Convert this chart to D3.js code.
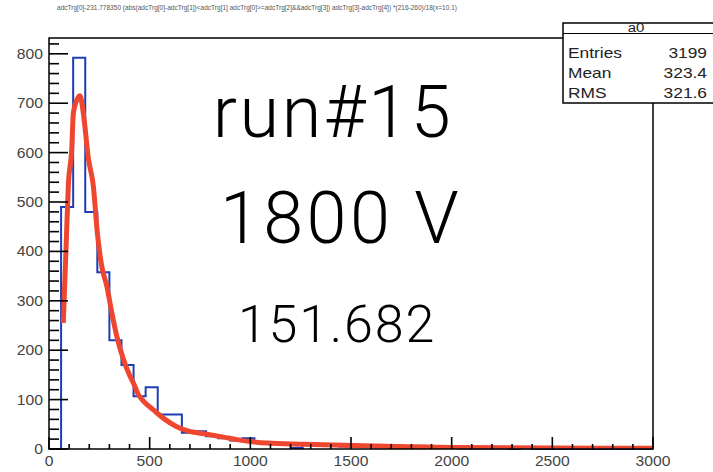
<!DOCTYPE html>
<html>
<head>
<meta charset="utf-8">
<script src="https://cdn.jsdelivr.net/npm/d3@7"></script>
<style>
  html, body { margin: 0; padding: 0; background: #fff; }
  svg { display: block; }
</style>
</head>
<body>
<script>
// ---- data ----
const binWidth = 60;
const binCounts = [0, 490, 792, 480, 358, 220, 170, 107, 125, 70,
                   70, 33, 36, 26, 22, 17, 22, 13, 11, 9,
                   2, 8, 7, 6, 5, 5, 4, 4, 3, 3,
                   2, 2, 2, 2, 1, 1, 1, 1, 0, 1,
                   0, 0, 0, 0, 0, 0, 0, 0, 0, 0];
const fitX = [71, 85, 96, 113, 121, 141, 154, 171, 196, 220, 240, 262, 287, 312, 337, 370, 403, 420, 444, 469, 519, 569, 635, 685, 785, 867, 934, 1083, 1265, 1513, 1746, 2000, 2500, 3000];
const fitY = [255, 411, 533, 607, 680, 709, 715, 678, 587, 533, 438, 370, 330, 276, 228, 181, 147, 133, 110, 97, 79, 62, 45, 37, 30, 24, 19, 12, 9.5, 7, 5, 3, 2, 1.5];
const xTicks = [0, 500, 1000, 1500, 2000, 2500, 3000];
const yTicks = [0, 100, 200, 300, 400, 500, 600, 700, 800];
const statsLabels = ["Entries", "Mean", "RMS"];
const statsValues = ["3199", "323.4", "321.6"];
const histName = "a0";
const titleText = "adcTrg[0]-231.778350 (abs(adcTrg[0]-adcTrg[1])<adcTrg[1]  adcTrg[0]>=adcTrg[2]&&adcTrg[3])  adcTrg[3]-adcTrg[4]) *(216-260)/18(x=10.1)";
const bigLines = ["run#15", "1800 V", "151.682"];

// ---- layout ----
const W = 713, H = 472;
const frame = { left: 49, right: 653, top: 38, bottom: 449 };
const sans = "Liberation Sans, Arial, sans-serif";

const svg = d3.select("body").append("svg").attr("width", W).attr("height", H);

const x = d3.scaleLinear().domain([0, 3000]).range([frame.left, frame.right]);
const y = d3.scaleLinear().domain([0, 832]).range([frame.bottom, frame.top]);

// stretched text helper
function sText(g, tx, ty, str, size, anchor, sx, fill) {
  return g.append("text")
    .attr("transform", `translate(${tx},${ty}) scale(${sx},1)`)
    .attr("dy", "0.35em")
    .attr("text-anchor", anchor)
    .attr("font-family", sans).attr("font-size", size)
    .attr("fill", fill).text(str);
}

// histogram step path
const pts = [[0, 0]];
binCounts.forEach((c, i) => {
  pts.push([i * binWidth, c]);
  pts.push([(i + 1) * binWidth, c]);
});
pts.push([binCounts.length * binWidth, 0]);

svg.append("clipPath").attr("id", "clip").append("rect")
  .attr("x", frame.left).attr("y", frame.top)
  .attr("width", frame.right - frame.left).attr("height", frame.bottom - frame.top);

svg.append("path")
  .attr("d", d3.line().x(d => x(d[0])).y(d => y(d[1]))(pts))
  .attr("fill", "none").attr("stroke", "#1f3db3").attr("stroke-width", 2);

// fit curve
const fitPts = fitX.map((v, i) => [v, fitY[i]]);
svg.append("path")
  .attr("clip-path", "url(#clip)")
  .attr("d", d3.line().x(d => x(d[0])).y(d => y(d[1])).curve(d3.curveMonotoneX)(fitPts))
  .attr("fill", "none").attr("stroke", "#ef4630").attr("stroke-width", 5)
  .attr("stroke-linejoin", "round");

// frame
svg.append("rect")
  .attr("x", frame.left).attr("y", frame.top)
  .attr("width", frame.right - frame.left).attr("height", frame.bottom - frame.top)
  .attr("fill", "none").attr("stroke", "#000").attr("stroke-width", 1.5);

// y axis ticks (inside)
svg.append("g").selectAll("line").data(d3.range(0, 821, 20)).enter().append("line")
  .attr("x1", frame.left).attr("x2", d => frame.left + (d % 100 === 0 ? 19 : 10))
  .attr("y1", d => y(d)).attr("y2", d => y(d))
  .attr("stroke", "#000").attr("stroke-width", 1.6);
const ylab = svg.append("g");
yTicks.forEach(d => sText(ylab, frame.left - 6, y(d), d, 14, "end", 1.12, "#444"));

// x axis ticks (inside)
svg.append("g").selectAll("line").data(d3.range(0, 3001, 100)).enter().append("line")
  .attr("x1", d => x(d)).attr("x2", d => x(d))
  .attr("y1", frame.bottom).attr("y2", d => frame.bottom - (d % 500 === 0 ? 12 : 5))
  .attr("stroke", "#000").attr("stroke-width", 1.6);
const xlab = svg.append("g");
xTicks.forEach(d => sText(xlab, x(d), frame.bottom + 12, d, 14, "middle", 1.12, "#444"));

// title
svg.append("text").attr("x", 257).attr("y", 10).attr("text-anchor", "middle")
  .attr("font-family", sans).attr("font-size", 7)
  .attr("textLength", 400).attr("lengthAdjust", "spacingAndGlyphs")
  .attr("fill", "#555").text(titleText);

// stats box
const sb = { x: 563, y: 23, w: 160, h: 80, titleH: 10.5 };
const sg = svg.append("g");
sg.append("rect").attr("x", sb.x).attr("y", sb.y).attr("width", sb.w).attr("height", sb.h)
  .attr("fill", "#fff").attr("stroke", "#000").attr("stroke-width", 1.5);
sg.append("line").attr("x1", sb.x).attr("x2", sb.x + sb.w)
  .attr("y1", sb.y + sb.titleH).attr("y2", sb.y + sb.titleH)
  .attr("stroke", "#000").attr("stroke-width", 1.2);
sText(sg, 636, 27.5, histName, 12, "middle", 1.25, "#222");
statsLabels.forEach((l, i) => {
  const cy = 53 + i * 20;
  sText(sg, 568, cy, l, 14, "start", 1.24, "#222");
  sText(sg, 707, cy, statsValues[i], 14, "end", 1.24, "#222");
});

// big annotations
const bigPos = [
  { cx: 333, base: 137, size: 72, ls: 2.6 },
  { cx: 341, base: 243, size: 72, ls: 3.4 },
  { cx: 337, base: 342, size: 52, ls: 1.8 }
];
bigLines.forEach((t, i) => {
  svg.append("text").attr("x", bigPos[i].cx).attr("y", bigPos[i].base)
    .attr("text-anchor", "middle")
    .attr("font-family", "Roboto, 'Liberation Sans', sans-serif")
    .attr("font-weight", 300)
    .attr("letter-spacing", bigPos[i].ls)
    .attr("font-size", bigPos[i].size).attr("fill", "#000")
    .text(t);
});
</script>
</body>
</html>
